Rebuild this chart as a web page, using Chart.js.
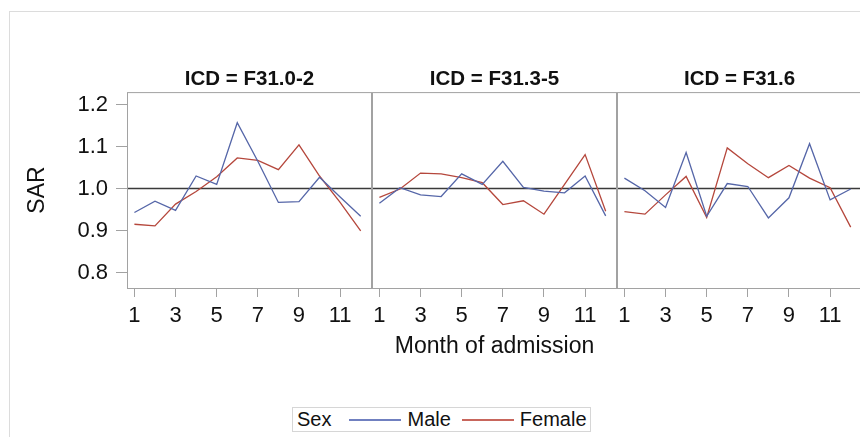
<!DOCTYPE html>
<html>
<head>
<meta charset="utf-8">
<script src="https://cdn.jsdelivr.net/npm/chart.js@4.4.0/dist/chart.umd.min.js"></script>
<style>
  html, body { margin: 0; padding: 0; background: #fff; }
  body { position: relative; width: 860px; height: 437px; overflow: hidden; font-family: "Liberation Sans", Arial, sans-serif; }
  #frame { position: absolute; left: 9px; top: 11px; width: 900px; height: 500px; border-left: 1px solid #dcdcdc; border-top: 1px solid #dcdcdc; }
  canvas { position: absolute; top: 60px; }
  #legend { position: absolute; left: 292px; top: 407px; width: 297px; height: 23px; border: 1px solid #d6d6d6;
            font-size: 20px; color: #111; display: flex; align-items: center; white-space: nowrap; }
  #legend .line { display: inline-block; width: 52px; height: 2px; }
</style>
</head>
<body>
<div id="frame"></div>
<canvas id="p1" width="372" height="304" style="left:0px"></canvas>
<canvas id="p2" width="245" height="304" style="left:372px"></canvas>
<canvas id="p3" width="245" height="304" style="left:617px"></canvas>
<div id="legend">
  <span style="margin-left:4px">Sex</span>
  <span class="line" style="margin-left:18px;background-color:#7080c0"></span>
  <span style="margin-left:6px">Male</span>
  <span class="line" style="margin-left:11px;background-color:#c8665c"></span>
  <span style="margin-left:6px">Female</span>
</div>
<script>
// Data
const months = [1, 2, 3, 4, 5, 6, 7, 8, 9, 10, 11, 12];
const xTicks = [1, 3, 5, 7, 9, 11];
const yTicks = [0.8, 0.9, 1.0, 1.1, 1.2];
const panelTitles = ['ICD = F31.0-2', 'ICD = F31.3-5', 'ICD = F31.6'];

const maleF310 = [0.943, 0.970, 0.948, 1.030, 1.010, 1.157, 1.065, 0.967, 0.969, 1.027, 0.980, 0.934];
const femaleF310 = [0.915, 0.911, 0.963, 0.993, 1.028, 1.073, 1.067, 1.045, 1.104, 1.030, 0.967, 0.899];

const maleF313 = [0.965, 1.002, 0.985, 0.981, 1.035, 1.010, 1.065, 1.003, 0.994, 0.990, 1.030, 0.935];
const femaleF313 = [0.979, 0.999, 1.037, 1.035, 1.026, 1.014, 0.962, 0.971, 0.939, 1.010, 1.081, 0.946];

const maleF316 = [1.025, 0.995, 0.955, 1.086, 0.934, 1.012, 1.005, 0.930, 0.978, 1.107, 0.973, 0.999];
const femaleF316 = [0.945, 0.939, 0.985, 1.029, 0.931, 1.097, 1.059, 1.026, 1.055, 1.025, 1.002, 0.908];

const maleColor = '#5566a8';
const femaleColor = '#b5473c';
const frameColor = '#a2a2a2';
const font = 'Liberation Sans, Arial, sans-serif';

// garis referensi di 1.0 dan kotak panel
const panelPlugin = {
  id: 'panelFrame',
  beforeDatasetsDraw(chart) {
    const { ctx, chartArea } = chart;
    const y = chart.scales.y.getPixelForValue(1.0);
    ctx.save();
    ctx.strokeStyle = '#3a3a3a';
    ctx.lineWidth = 1.5;
    ctx.beginPath();
    ctx.moveTo(chartArea.left, y);
    ctx.lineTo(chartArea.right, y);
    ctx.stroke();
    ctx.restore();
  },
  afterDatasetsDraw(chart) {
    const { ctx, chartArea } = chart;
    ctx.save();
    ctx.strokeStyle = frameColor;
    ctx.lineWidth = 1;
    ctx.strokeRect(chartArea.left + 0.5, chartArea.top + 0.5,
      chartArea.right - chartArea.left - 1, chartArea.bottom - chartArea.top);
    ctx.restore();
  },
};

function makePanel(id, title, male, female, showY, showXTitle) {
  const ctx = document.getElementById(id).getContext('2d');
  return new Chart(ctx, {
    type: 'line',
    data: {
      datasets: [
        {
          label: 'Male',
          data: months.map((m, i) => ({ x: m, y: male[i] })),
          borderColor: maleColor,
          borderWidth: 1.3,
          pointRadius: 0,
          tension: 0,
        },
        {
          label: 'Female',
          data: months.map((m, i) => ({ x: m, y: female[i] })),
          borderColor: femaleColor,
          borderWidth: 1.3,
          pointRadius: 0,
          tension: 0,
        },
      ],
    },
    options: {
      responsive: false,
      animation: false,
      layout: { padding: { top: 7, left: 0, right: 0, bottom: 0 } },
      plugins: {
        legend: { display: false },
        tooltip: { enabled: false },
        title: {
          display: true,
          text: title,
          fullSize: false,
          color: '#111',
          font: { family: font, size: 20.5, weight: 'bold' },
          padding: { top: 0, bottom: 0.5 },
        },
      },
      scales: {
        x: {
          type: 'linear',
          min: 0.64,
          max: 12.55,
          afterBuildTicks: (scale) => { scale.ticks = xTicks.map((v) => ({ value: v })); },
          afterFit: (scale) => {
            scale.height = 76;
            scale.paddingLeft = 0;
            scale.paddingRight = 0;
          },
          grid: { drawOnChartArea: false, drawTicks: true, tickLength: 9, color: frameColor },
          border: { display: false },
          ticks: {
            autoSkip: false,
            maxRotation: 0,
            padding: 6,
            color: '#111',
            font: { family: font, size: 22 },
          },
          title: {
            display: showXTitle,
            text: 'Month of admission',
            color: '#111',
            font: { family: font, size: 23 },
            padding: { top: 0, bottom: 4 },
          },
        },
        y: {
          type: 'linear',
          display: showY,
          min: 0.763,
          max: 1.23,
          afterBuildTicks: (scale) => { scale.ticks = yTicks.map((v) => ({ value: v })); },
          afterFit: (scale) => { if (showY) scale.width = 127; },
          grid: { drawOnChartArea: false, drawTicks: true, tickLength: 11, color: frameColor },
          border: { display: false },
          ticks: {
            padding: 8,
            color: '#111',
            font: { family: font, size: 22 },
            callback: (v) => Number(v).toFixed(1),
          },
          title: {
            display: showY,
            text: 'SAR',
            color: '#111',
            font: { family: font, size: 23 },
            padding: { top: 24, bottom: 0 },
          },
        },
      },
    },
    plugins: [panelPlugin],
  });
}

makePanel('p1', panelTitles[0], maleF310, femaleF310, true, false);
makePanel('p2', panelTitles[1], maleF313, femaleF313, false, true);
makePanel('p3', panelTitles[2], maleF316, femaleF316, false, false);
</script>
</body>
</html>
